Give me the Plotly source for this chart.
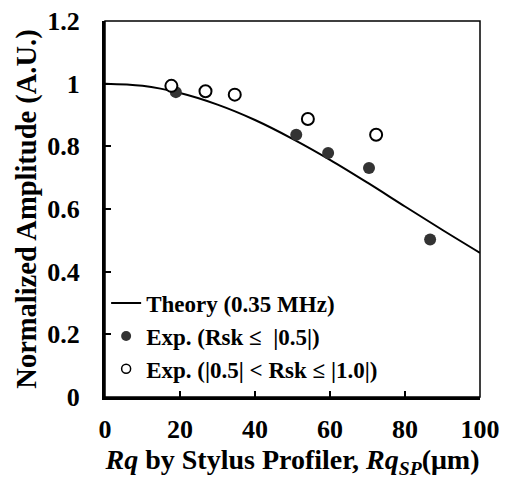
import plotly.graph_objects as go

# Theory curve (0.35 MHz)
theory_x = [0, 10, 20, 30, 40, 50, 60, 70, 80, 90, 100]
theory_y = [1.0, 0.993, 0.970, 0.933, 0.884, 0.824, 0.757, 0.684, 0.608, 0.533, 0.460]

# Exp. (Rsk <= |0.5|) filled
filled_x = [18.9, 51.0, 59.5, 70.4, 86.7]
filled_y = [0.973, 0.837, 0.779, 0.731, 0.503]

# Exp. (|0.5| < Rsk <= |1.0|) open
open_x = [17.7, 26.8, 34.6, 54.1, 72.3]
open_y = [0.993, 0.976, 0.965, 0.887, 0.837]

x_ticks = [0, 20, 40, 60, 80, 100]
y_ticks = [0, 0.2, 0.4, 0.6, 0.8, 1.0, 1.2]
y_ticklabels = ["0", "0.2", "0.4", "0.6", "0.8", "1", "1.2"]

FONT = "Liberation Serif"

fig = go.Figure()
fig.add_trace(go.Scatter(x=theory_x, y=theory_y, mode="lines", line=dict(color="black", width=2),
                         line_shape="spline", showlegend=False))
fig.add_trace(go.Scatter(x=filled_x, y=filled_y, mode="markers",
                         marker=dict(color="#333333", size=12, line=dict(width=0)), showlegend=False))
fig.add_trace(go.Scatter(x=open_x, y=open_y, mode="markers",
                         marker=dict(color="white", size=12, line=dict(color="black", width=2)), showlegend=False))

# legend-only entries
fig.add_trace(go.Scatter(x=[None], y=[None], mode="lines", line=dict(color="black", width=2),
                         name="Theory (0.35 MHz)"))
fig.add_trace(go.Scatter(x=[None], y=[None], mode="markers",
                         marker=dict(color="#333333", size=10, line=dict(width=0)),
                         name="Exp. (Rsk ≤  |0.5|)"))
fig.add_trace(go.Scatter(x=[None], y=[None], mode="markers",
                         marker=dict(color="white", size=9, line=dict(color="black", width=1.5)),
                         name="Exp. (|0.5| < Rsk ≤ |1.0|)"))

fig.add_shape(type="rect", xref="paper", yref="paper", x0=0, y0=0, x1=1, y1=1,
              line=dict(color="black", width=1.5), layer="below")

fig.update_layout(
    width=505, height=479,
    margin=dict(l=105, r=25, t=21, b=82),
    paper_bgcolor="white", plot_bgcolor="white",
    font=dict(family=FONT, color="black"),
    legend=dict(x=0.003, y=0.307, xanchor="left", yanchor="top", bgcolor="rgba(0,0,0,0)",
                font=dict(family=FONT, size=23, color="black", weight="bold"),
                itemwidth=30, tracegroupgap=0),
    xaxis=dict(range=[0, 100], tickvals=x_ticks, ticks="inside", ticklen=6, tickwidth=2,
               tickcolor="black", showline=True, linecolor="black", linewidth=3,
               showgrid=False, zeroline=False, ticklabelstandoff=7, automargin=False,
               tickfont=dict(family=FONT, size=26, weight="bold"),
               title=dict(text="<i>Rq</i> by Stylus Profiler, <i>Rq</i><sub><i>SP</i></sub>(μm)",
                          font=dict(family=FONT, size=28, weight="bold"))),
    yaxis=dict(range=[0, 1.2], tickvals=y_ticks, ticktext=y_ticklabels, ticks="inside", ticklen=6,
               tickwidth=2, tickcolor="black", showline=True, linecolor="black", linewidth=3,
               showgrid=False, zeroline=False, ticklabelstandoff=17, automargin=False,
               tickfont=dict(family=FONT, size=26, weight="bold"),
               title=dict(text="Normalized Amplitude (A.U.)", standoff=3,
                          font=dict(family=FONT, size=28.5, weight="bold"))),
)

fig.write_html("out.html", config={"displayModeBar": False},
               post_script="document.body.style.margin='0';")
